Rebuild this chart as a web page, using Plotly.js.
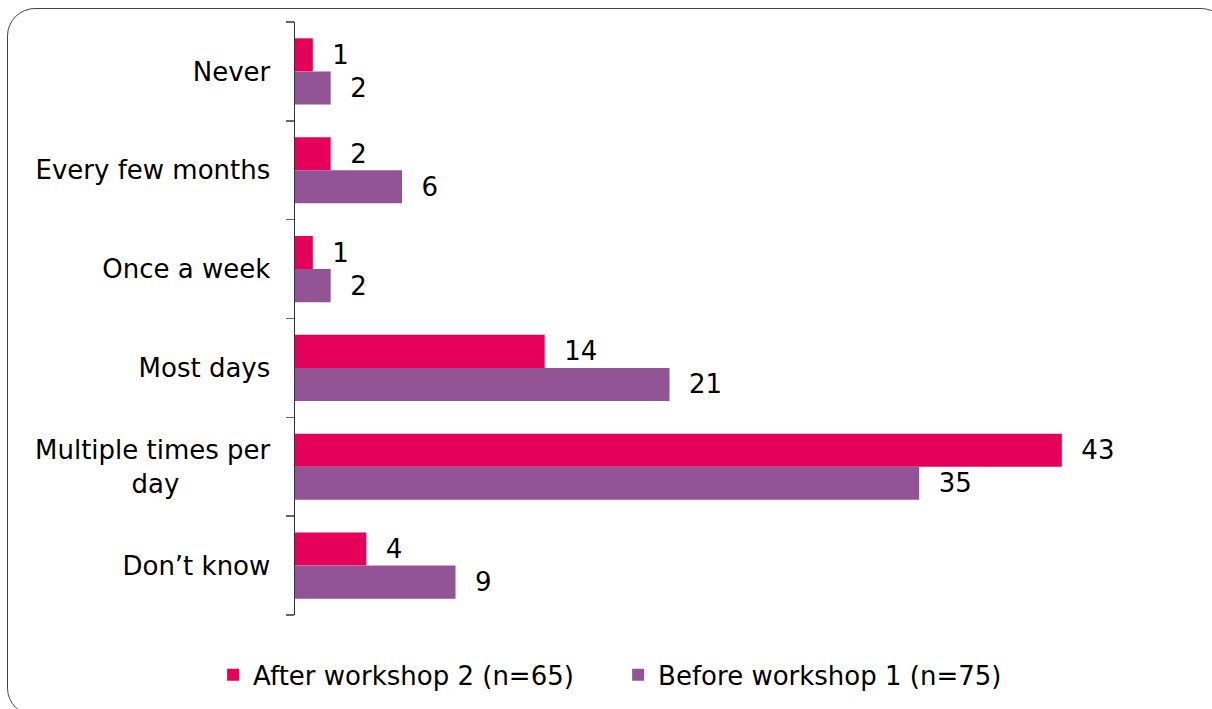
<!DOCTYPE html>
<html>
<head>
<meta charset="utf-8">
<script src="https://cdn.plot.ly/plotly-3.0.1.min.js"></script>
<style>
  html, body { margin: 0; padding: 0; background: #fff; overflow: hidden; }
  #wrap { position: relative; width: 1212px; height: 709px; }
  #chart { position: absolute; left: 0; top: 0; width: 1212px; height: 709px; }
  #frame {
    position: absolute; left: 7px; top: 8px; width: 1222px; height: 708px;
    border: 1.5px solid #444; border-radius: 28px; box-sizing: border-box;
    pointer-events: none;
  }
</style>
</head>
<body>
<div id="wrap">
  <div id="chart"></div>
  <div id="frame"></div>
</div>
<script>
// Frequency categories, top to bottom
const categories = [
  "Never",
  "Every few months",
  "Once a week",
  "Most days",
  "Multiple times per day",
  "Don’t know"
];

// Axis labels for the categories (long one wrapped, second line centred under the first)
const NB = "\u00A0";
const tickLabels = [
  "Never",
  "Every few months",
  "Once a week",
  "Most days",
  "Multiple times per<br>day" + NB.repeat(11),
  "Don’t know"
];

// Respondent counts per category
const afterWorkshop2 = [1, 2, 1, 14, 43, 4];
const beforeWorkshop1 = [2, 6, 2, 21, 35, 9];

const seriesNames = ["After workshop 2 (n=65)", "Before workshop 1 (n=75)"];

const FONT = "DejaVu Sans, sans-serif";
const SIZE = 26;

function barTrace(name, values, color) {
  return {
    type: "bar",
    orientation: "h",
    name: name,
    y: categories,
    x: values,
    marker: { color: color },
    text: values.map(String),
    texttemplate: "  %{text}",
    textposition: "outside",
    cliponaxis: false,
    textfont: { family: FONT, size: SIZE, color: "#000" },
    hoverinfo: "x+name"
  };
}

const traces = [
  barTrace(seriesNames[0], afterWorkshop2, "#E5005A"),
  barTrace(seriesNames[1], beforeWorkshop1, "#925494")
];

const layout = {
  width: 1212,
  height: 709,
  margin: { l: 295, r: 61, t: 22, b: 94 },
  paper_bgcolor: "rgba(0,0,0,0)",
  plot_bgcolor: "rgba(0,0,0,0)",
  barmode: "group",
  bargap: 0.33,
  bargroupgap: 0,
  font: { family: FONT, size: SIZE, color: "#000" },
  xaxis: {
    range: [0, 48],
    visible: false,
    showgrid: false,
    zeroline: false
  },
  yaxis: {
    type: "category",
    autorange: "reversed",
    tickmode: "array",
    tickvals: categories,
    ticktext: tickLabels,
    showline: true,
    linecolor: "#333",
    linewidth: 1.5,
    ticks: "outside",
    tickson: "boundaries",
    ticklen: 8,
    tickcolor: "#666",
    tickwidth: 1.5,
    ticklabelstandoff: 18,
    showgrid: false,
    zeroline: false,
    tickfont: { family: FONT, size: SIZE, color: "#000" }
  },
  showlegend: true,
  legend: {
    orientation: "h",
    xref: "container",
    yref: "container",
    x: 0.51,
    xanchor: "center",
    y: 0.048,
    yanchor: "middle",
    font: { family: FONT, size: SIZE, color: "#000" },
    itemwidth: 30,
    entrywidthmode: "pixels",
    entrywidth: 360,
    tracegroupgap: 0
  }
};

Plotly.newPlot("chart", traces, layout, { displayModeBar: false, staticPlot: true });
</script>
</body>
</html>
